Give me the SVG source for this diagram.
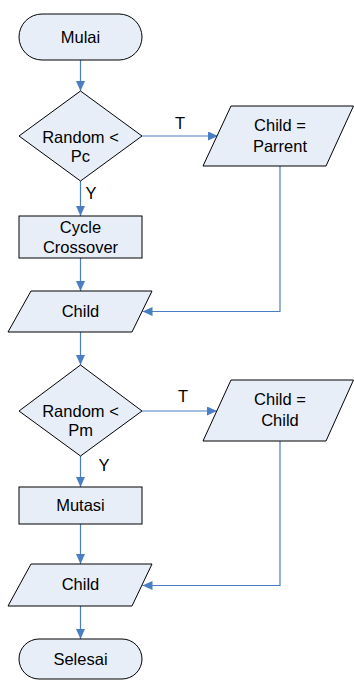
<svg xmlns="http://www.w3.org/2000/svg" width="354" height="680" viewBox="0 0 354 680">
<style>
.s{fill:#E8EEF8;stroke:#000;stroke-width:1}
.t{font-family:"Liberation Sans",Arial,sans-serif;font-size:16.5px;fill:#000;text-anchor:middle}
.c{fill:none;stroke:#4A7EC4;stroke-width:1.2}
</style>
<defs>
<marker id="a" markerUnits="userSpaceOnUse" markerWidth="11" markerHeight="9" refX="10" refY="4.5" orient="auto">
<path d="M0,0 L10,4.5 L0,9 z" fill="#4A7EC4"/>
</marker>
</defs>
<rect width="354" height="680" fill="#fff"/>
<g id="connectors">
<path class="c" d="M80.5,60 V91" marker-end="url(#a)"/>
<path class="c" d="M142,136 H218" marker-end="url(#a)"/>
<path class="c" d="M80.5,181 V216" marker-end="url(#a)"/>
<path class="c" d="M80.5,258 V291" marker-end="url(#a)"/>
<path class="c" d="M280,166 V311.5 H142.5" marker-end="url(#a)"/>
<path class="c" d="M80.5,332 V365" marker-end="url(#a)"/>
<path class="c" d="M142,411 H217" marker-end="url(#a)"/>
<path class="c" d="M280,441 V585.5 H142.5" marker-end="url(#a)"/>
<path class="c" d="M80.5,456 V487" marker-end="url(#a)"/>
<path class="c" d="M80.5,524 V564" marker-end="url(#a)"/>
<path class="c" d="M80.5,606 V639" marker-end="url(#a)"/>
<text class="t" x="180" y="129">T</text>
<text class="t" x="91" y="199">Y</text>
<text class="t" x="183" y="402">T</text>
<text class="t" x="104" y="471">Y</text>
</g>
<g id="mulai">
<rect class="s" x="19" y="14" width="123" height="46" rx="23"/>
<text class="t" x="80.5" y="43">Mulai</text>
</g>
<g id="decision1">
<polygon class="s" points="80.5,91 142,136 80.5,181 19,136"/>
<text class="t" x="80.5" y="143">Random &lt;</text>
<text class="t" x="80.5" y="162">Pc</text>
</g>
<g id="childParrent">
<polygon class="s" points="231,106 353.5,106 326,166 203,166"/>
<text class="t" x="280" y="131">Child =</text>
<text class="t" x="280" y="152">Parrent</text>
</g>
<g id="cycle">
<rect class="s" x="19" y="216" width="123" height="42"/>
<text class="t" x="80.5" y="233">Cycle</text>
<text class="t" x="80.5" y="253">Crossover</text>
</g>
<g id="child1">
<polygon class="s" points="31,291 152,291 132,332 8,332"/>
<text class="t" x="80.5" y="317">Child</text>
</g>
<g id="decision2">
<polygon class="s" points="80.5,365 142,411 80.5,456 19,411"/>
<text class="t" x="80.5" y="417">Random &lt;</text>
<text class="t" x="80.5" y="436">Pm</text>
</g>
<g id="childChild">
<polygon class="s" points="231,380 353.5,380 326,441 203,441"/>
<text class="t" x="280" y="405">Child =</text>
<text class="t" x="280" y="426">Child</text>
</g>
<g id="mutasi">
<rect class="s" x="19" y="487" width="123" height="37"/>
<text class="t" x="80.5" y="511">Mutasi</text>
</g>
<g id="child2">
<polygon class="s" points="31,564 152,564 132,606 8,606"/>
<text class="t" x="80.5" y="590">Child</text>
</g>
<g id="selesai">
<rect class="s" x="19" y="639" width="123" height="40" rx="20"/>
<text class="t" x="80.5" y="665">Selesai</text>
</g>
</svg>
